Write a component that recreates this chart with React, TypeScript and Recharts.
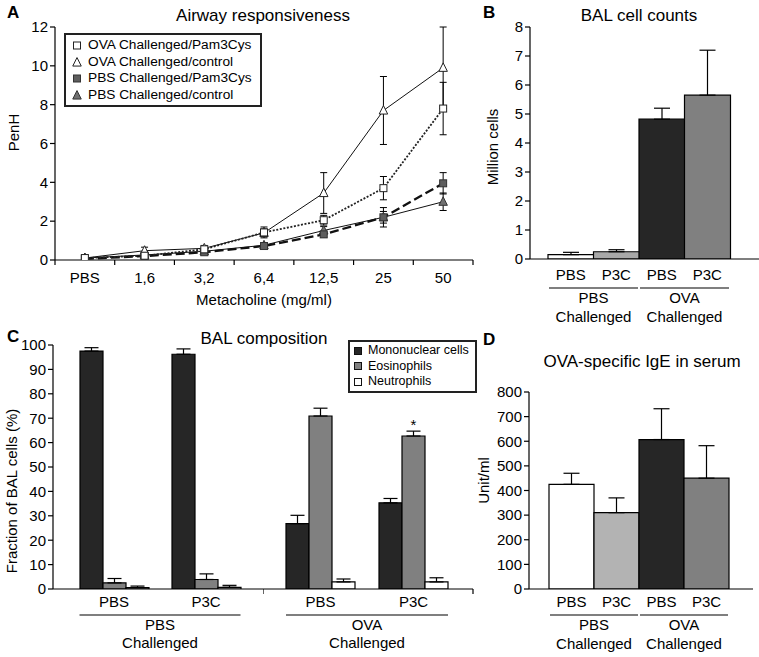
import React from 'react';
import {
  ComposedChart,
  BarChart,
  Bar,
  Line,
  XAxis,
  YAxis,
  ErrorBar,
  Cell,
  Legend,
  LabelList,
} from 'recharts';

const FONT = '"Liberation Sans", Arial, Helvetica, sans-serif';

// ---- A: airway responsiveness ----
const metacholine = ['PBS', '1,6', '3,2', '6,4', '12,5', '25', '50'];
const ovaPam = [0.1, 0.22, 0.55, 1.42, 2.05, 3.7, 7.8];
const ovaPamErr = [0.05, 0.08, 0.1, 0.28, 0.25, 0.6, 1.35];
const ovaCtrl = [0.1, 0.48, 0.6, 1.4, 3.45, 7.7, 9.9];
const ovaCtrlErr = [0.05, 0.18, 0.15, 0.2, 1.05, 1.75, 2.1];
const pbsPam = [0.06, 0.2, 0.4, 0.72, 1.32, 2.2, 3.95];
const pbsPamErr = [0.03, 0.05, 0.05, 0.1, 0.15, 0.3, 0.55];
const pbsCtrl = [0.1, 0.26, 0.45, 0.76, 1.52, 2.2, 3.0];
const pbsCtrlErr = [0.05, 0.05, 0.05, 0.1, 0.2, 0.5, 0.45];
const penhTicks = [0, 2, 4, 6, 8, 10, 12];

// ---- B: BAL cell counts ----
const treatments = ['PBS', 'P3C', 'PBS', 'P3C'];
const challengeGroups = [['PBS', 'Challenged'], ['OVA', 'Challenged']];
const cellCounts = [0.15, 0.25, 4.82, 5.65];
const cellCountsErr = [0.08, 0.07, 0.38, 1.55];
const countTicks = [0, 1, 2, 3, 4, 5, 6, 7, 8];

// ---- C: BAL composition ----
const mononuclear = [97.5, 96.2, 26.8, 35.3];
const mononuclearErr = [1.4, 2.2, 3.4, 1.8];
const eosinophils = [2.5, 3.9, 70.9, 62.7];
const eosinophilsErr = [1.8, 2.3, 3.2, 2.0];
const neutrophils = [0.6, 0.7, 2.9, 2.9];
const neutrophilsErr = [0.6, 0.8, 1.2, 1.7];
const eosMarks = ['', '', '', '*'];
const fractionTicks = [0, 10, 20, 30, 40, 50, 60, 70, 80, 90, 100];

// ---- D: OVA-specific IgE ----
const ige = [425, 310, 607, 450];
const igeErr = [45, 60, 125, 132];
const igeTicks = [0, 100, 200, 300, 400, 500, 600, 700, 800];

const lineSeries = [
  { key: 'ovaPam', name: 'OVA Challenged/Pam3Cys', values: ovaPam, errors: ovaPamErr, marker: 'square', fill: '#fff', edge: '#222', stroke: '#222', width: 1.8, dash: '2 1.6' },
  { key: 'ovaCtrl', name: 'OVA Challenged/control', values: ovaCtrl, errors: ovaCtrlErr, marker: 'triangle', fill: '#fff', edge: '#222', stroke: '#111', width: 1, dash: undefined },
  { key: 'pbsPam', name: 'PBS Challenged/Pam3Cys', values: pbsPam, errors: pbsPamErr, marker: 'square', fill: '#5e5e5e', edge: '#333', stroke: '#111', width: 2.3, dash: '9 4' },
  { key: 'pbsCtrl', name: 'PBS Challenged/control', values: pbsCtrl, errors: pbsCtrlErr, marker: 'triangle', fill: '#707070', edge: '#333', stroke: '#111', width: 1, dash: undefined },
];
const drawOrder = ['pbsCtrl', 'ovaCtrl', 'pbsPam', 'ovaPam'];

const compSeries = [
  { key: 'mono', name: 'Mononuclear cells', values: mononuclear, errors: mononuclearErr, fill: '#262626' },
  { key: 'eos', name: 'Eosinophils', values: eosinophils, errors: eosinophilsErr, fill: '#808080' },
  { key: 'neut', name: 'Neutrophils', values: neutrophils, errors: neutrophilsErr, fill: '#ffffff' },
];

const countFills = ['#ffffff', '#a8a8a8', '#262626', '#808080'];
const igeFills = ['#ffffff', '#b3b3b3', '#262626', '#808080'];

const dataA = metacholine.map((dose, i) => {
  const row: any = { dose };
  lineSeries.forEach((s) => {
    row[s.key] = s.values[i];
    row[s.key + 'Err'] = s.errors[i];
  });
  return row;
});

const dataB = treatments.map((t, i) => ({
  id: `${challengeGroups[Math.floor(i / 2)][0]}-${t}`,
  value: cellCounts[i],
  err: [0, cellCountsErr[i]],
}));

const dataD = treatments.map((t, i) => ({
  id: `${challengeGroups[Math.floor(i / 2)][0]}-${t}`,
  value: ige[i],
  err: [0, igeErr[i]],
}));

const compRows = (from: number) =>
  [from, from + 1].map((i) => {
    const row: any = { id: `${challengeGroups[Math.floor(i / 2)][0]}-${treatments[i]}`, mark: eosMarks[i] };
    compSeries.forEach((s) => {
      row[s.key] = s.values[i];
      row[s.key + 'Err'] = [0, s.errors[i]];
    });
    return row;
  });
const dataCLeft = compRows(0);
const dataCRight = compRows(2);

const FS = 15;
const tickStyle = { fill: '#000', fontSize: FS, fontFamily: FONT };
const axisStroke = { stroke: '#000', strokeWidth: 1.2 };

const Marker = ({ kind, cx, cy, fill, edge, size }: any) => {
  if (kind === 'square') {
    return <rect x={cx - size / 2} y={cy - size / 2} width={size} height={size} fill={fill} stroke={edge} strokeWidth={1} />;
  }
  const s = size + 1.5;
  return (
    <polygon
      points={`${cx},${cy - s * 0.58} ${cx - s / 2},${cy + s * 0.42} ${cx + s / 2},${cy + s * 0.42}`}
      fill={fill}
      stroke={edge}
      strokeWidth={1}
    />
  );
};

const LegendA = () => (
  <div style={{ border: '2px solid #222', background: '#fff', padding: '2px 8px 2px 5px', fontSize: 13.7, lineHeight: '16.5px', color: '#000', fontFamily: FONT, whiteSpace: 'nowrap' }}>
    {lineSeries.map((s) => (
      <div key={s.key} style={{ display: 'flex', alignItems: 'center' }}>
        <svg width={12} height={12} style={{ marginRight: 5 }}>
          <Marker kind={s.marker} cx={6} cy={6.5} fill={s.fill} edge={s.edge} size={7} />
        </svg>
        {s.name}
      </div>
    ))}
  </div>
);

const LegendC = () => (
  <div style={{ border: '2px solid #222', background: '#fff', padding: '1px 6px 1px 4px', fontSize: 12.5, lineHeight: '15.5px', color: '#000', fontFamily: FONT, whiteSpace: 'nowrap' }}>
    {compSeries.map((s) => (
      <div key={s.key} style={{ display: 'flex', alignItems: 'center' }}>
        <span style={{ display: 'inline-block', width: 6, height: 6, background: s.fill, border: '1.5px solid #111', marginRight: 6 }} />
        {s.name}
      </div>
    ))}
  </div>
);

// dose axis: labels at band centres, tick marks at band edges
const doseTick = (band: number) => (p: any) => {
  const { x, y, index, payload } = p;
  const half = payload && payload.offset ? payload.offset : band / 2;
  return (
    <g>
      <text x={x} y={y + 18} dy="0.35em" textAnchor="middle" fill="#000" fontSize={FS} fontFamily={FONT}>
        {metacholine[index]}
      </text>
      <line x1={x - half} x2={x - half} y1={y} y2={y + 5} stroke="#000" strokeWidth={1.2} />
      {index === metacholine.length - 1 && (
        <line x1={x + half} x2={x + half} y1={y} y2={y + 5} stroke="#000" strokeWidth={1.2} />
      )}
    </g>
  );
};

const GroupText = ({ x, y, lines, gap }: any) => (
  <text x={x} textAnchor="middle" fill="#000" fontSize={FS} fontFamily={FONT}>
    <tspan x={x} y={y} dy="0.35em">{lines[0]}</tspan>
    <tspan x={x} y={y + gap} dy="0.35em">{lines[1]}</tspan>
  </text>
);

// four bars, two per challenge group
const pairTick = (band: number, g: any) => (p: any) => {
  const { x, y, index, payload } = p;
  const half = payload && payload.offset ? payload.offset : band / 2;
  const lead = index % 2 === 0;
  return (
    <g>
      <text x={x} y={y + g.sub} dy="0.35em" textAnchor="middle" fill="#000" fontSize={FS} fontFamily={FONT}>
        {treatments[index]}
      </text>
      {lead && (
        <>
          <line x1={x - half + 1} x2={x + 3 * half - 1} y1={y + g.line} y2={y + g.line} stroke="#555" strokeWidth={1.4} />
          <GroupText x={x + half} y={y + g.text} lines={challengeGroups[index / 2]} gap={g.gap} />
        </>
      )}
    </g>
  );
};

// two clusters per chart, one challenge group
const clusterTick = (band: number, group: number, cluster: number, padRight: number) => (p: any) => {
  const { x, y, index, payload } = p;
  const half = payload && payload.offset ? payload.offset : band / 2;
  return (
    <g>
      <text x={x} y={y + 13} dy="0.35em" textAnchor="middle" fill="#000" fontSize={FS} fontFamily={FONT}>
        {treatments[group * 2 + index]}
      </text>
      {index === 0 && (
        <>
          <line x1={x - cluster / 2} x2={x + 2 * half + cluster / 2} y1={y + 26} y2={y + 26} stroke="#555" strokeWidth={1.4} />
          <GroupText x={x + half} y={y + 36} lines={challengeGroups[group]} gap={18} />
        </>
      )}
      {index === 1 && (
        <line x1={x + half + padRight} x2={x + half + padRight} y1={y} y2={y + 5} stroke="#000" strokeWidth={1.2} />
      )}
    </g>
  );
};

const Title = ({ cx, cy, children }: any) => (
  <div style={{ position: 'absolute', left: cx, top: cy - 10, transform: 'translateX(-50%)', fontSize: 17, lineHeight: '19px', whiteSpace: 'nowrap', color: '#000' }}>
    {children}
  </div>
);

const Letter = ({ x, y, children }: any) => (
  <div style={{ position: 'absolute', left: x, top: y, fontSize: 17, lineHeight: '17px', fontWeight: 'bold', color: '#000' }}>
    {children}
  </div>
);

const yLabel = (value: string, offset: number, dy: number) => ({
  value,
  angle: -90,
  position: 'insideLeft' as const,
  offset,
  dy,
  fill: '#000',
  fontSize: FS,
  fontFamily: FONT,
  style: { textAnchor: 'middle' as const },
});

const C_BAR = 23;

const App = () => {
  return (
    <div style={{ position: 'absolute', left: 0, top: 0, width: 759, height: 657, background: '#fff', fontFamily: FONT }}>
      {/* A */}
      <div style={{ position: 'absolute', left: 0, top: 0 }}>
        <ComposedChart width={480} height={312} data={dataA} margin={{ top: 27, right: 7, bottom: 0, left: 0 }}>
          <XAxis
            dataKey="dose"
            scale="band"
            height={52}
            axisLine={axisStroke}
            tickLine={false}
            tickSize={0}
            tickMargin={0}
            interval={0}
            tick={doseTick(418 / 7)}
            label={{ value: 'Metacholine (mg/ml)', position: 'insideBottom', offset: 7, fill: '#000', fontSize: FS, fontFamily: FONT }}
          />
          <YAxis
            width={55}
            domain={[0, 12]}
            ticks={penhTicks}
            interval={0}
            allowDataOverflow
            tick={tickStyle}
            tickSize={5}
            tickMargin={2}
            axisLine={axisStroke}
            tickLine={axisStroke}
            label={yLabel('PenH', 14, -11)}
          />
          {drawOrder.map((k) => {
            const s = lineSeries.find((l) => l.key === k)!;
            return (
              <Line
                key={s.key}
                dataKey={s.key}
                type="linear"
                stroke={s.stroke}
                strokeWidth={s.width}
                strokeDasharray={s.dash}
                isAnimationActive={false}
                dot={(p: any) => (
                  <Marker key={`${s.key}-${p.index}`} kind={s.marker} cx={p.cx} cy={p.cy} fill={s.fill} edge={s.edge} size={7} />
                )}
                activeDot={false}
              >
                <ErrorBar dataKey={s.key + 'Err'} width={3.5} stroke="#000" strokeWidth={1} direction="y" />
              </Line>
            );
          })}
          <Legend
            layout="vertical"
            align="center"
            verticalAlign="middle"
            content={() => <LegendA />}
            wrapperStyle={{ left: 64, top: 33, width: 'auto', height: 'auto' }}
          />
        </ComposedChart>
      </div>

      {/* B */}
      <div style={{ position: 'absolute', left: 480, top: 0 }}>
        <BarChart width={279} height={330} data={dataB} margin={{ top: 27, right: 0, bottom: 0, left: 0 }} barCategoryGap={0}>
          <XAxis
            dataKey="id"
            height={71}
            padding={{ left: 18, right: 29 }}
            axisLine={axisStroke}
            tickLine={false}
            tickSize={0}
            tickMargin={0}
            interval={0}
            tick={pairTick(45.5, { sub: 16, line: 29, text: 39, gap: 19 })}
          />
          <YAxis
            width={50}
            domain={[0, 8]}
            ticks={countTicks}
            interval={0}
            allowDataOverflow
            tick={tickStyle}
            tickSize={5}
            tickMargin={2}
            axisLine={axisStroke}
            tickLine={axisStroke}
            label={yLabel('Million cells', 13, 4)}
          />
          <Bar dataKey="value" stroke="#000" strokeWidth={1.2} isAnimationActive={false}>
            {dataB.map((d, i) => (
              <Cell key={d.id} fill={countFills[i]} />
            ))}
            <ErrorBar dataKey="err" width={8} stroke="#000" strokeWidth={1.2} />
          </Bar>
        </BarChart>
      </div>

      {/* C left: PBS challenged */}
      <div style={{ position: 'absolute', left: 0, top: 330 }}>
        <BarChart width={264} height={322} data={dataCLeft} margin={{ top: 15, right: 0, bottom: 0, left: 0 }} barGap={0} barSize={C_BAR}>
          <XAxis
            dataKey="id"
            height={63}
            padding={{ left: 15, right: 12 }}
            axisLine={axisStroke}
            tickLine={false}
            tickSize={0}
            tickMargin={0}
            interval={0}
            tick={clusterTick(92, 0, C_BAR * 3, 12)}
          />
          <YAxis
            width={53}
            domain={[0, 100]}
            ticks={fractionTicks}
            interval={0}
            allowDataOverflow
            tick={tickStyle}
            tickSize={5}
            tickMargin={2}
            axisLine={axisStroke}
            tickLine={axisStroke}
            label={yLabel('Fraction of BAL cells (%)', 12, 24)}
          />
          {compSeries.map((s) => (
            <Bar key={s.key} dataKey={s.key} name={s.name} fill={s.fill} stroke="#000" strokeWidth={1.2} isAnimationActive={false}>
              <ErrorBar dataKey={s.key + 'Err'} width={7} stroke="#000" strokeWidth={1.2} />
            </Bar>
          ))}
        </BarChart>
      </div>

      {/* C right: OVA challenged */}
      <div style={{ position: 'absolute', left: 264, top: 330 }}>
        <BarChart width={215} height={322} data={dataCRight} margin={{ top: 15, right: 6, bottom: 0, left: 0 }} barGap={0} barSize={C_BAR}>
          <XAxis
            dataKey="id"
            height={63}
            padding={{ left: 10, right: 13 }}
            axisLine={axisStroke}
            tickLine={false}
            tickSize={0}
            tickMargin={0}
            interval={0}
            tick={clusterTick(93, 1, C_BAR * 3, 13)}
          />
          <YAxis hide width={0} domain={[0, 100]} allowDataOverflow />
          {compSeries.map((s) => (
            <Bar key={s.key} dataKey={s.key} name={s.name} fill={s.fill} stroke="#000" strokeWidth={1.2} isAnimationActive={false}>
              <ErrorBar dataKey={s.key + 'Err'} width={7} stroke="#000" strokeWidth={1.2} />
              {s.key === 'eos' && <LabelList dataKey="mark" position="top" offset={6} fill="#000" fontSize={15} fontFamily={FONT} />}
            </Bar>
          ))}
          <Legend
            layout="vertical"
            align="center"
            verticalAlign="middle"
            content={() => <LegendC />}
            wrapperStyle={{ left: 84, top: 10, width: 'auto', height: 'auto' }}
          />
        </BarChart>
      </div>

      {/* D */}
      <div style={{ position: 'absolute', left: 466, top: 330 }}>
        <BarChart width={293} height={327} data={dataD} margin={{ top: 62, right: 6, bottom: 0, left: 0 }} barCategoryGap={0}>
          <XAxis
            dataKey="id"
            height={68}
            padding={{ left: 20, right: 24 }}
            axisLine={axisStroke}
            tickLine={false}
            tickSize={0}
            tickMargin={0}
            interval={0}
            tick={pairTick(45, { sub: 13, line: 26, text: 36, gap: 19 })}
          />
          <YAxis
            width={63}
            domain={[0, 800]}
            ticks={igeTicks}
            interval={0}
            allowDataOverflow
            tick={tickStyle}
            tickSize={5}
            tickMargin={2}
            axisLine={axisStroke}
            tickLine={axisStroke}
            label={yLabel('Unit/ml', 18, -10)}
          />
          <Bar dataKey="value" stroke="#000" strokeWidth={1.2} isAnimationActive={false}>
            {dataD.map((d, i) => (
              <Cell key={d.id} fill={igeFills[i]} />
            ))}
            <ErrorBar dataKey="err" width={8} stroke="#000" strokeWidth={1.2} />
          </Bar>
        </BarChart>
      </div>

      <Letter x={7} y={4}>A</Letter>
      <Letter x={483} y={4}>B</Letter>
      <Letter x={7} y={328}>C</Letter>
      <Letter x={483} y={331}>D</Letter>
      <Title cx={263} cy={16}>Airway responsiveness</Title>
      <Title cx={639} cy={16}>BAL cell counts</Title>
      <Title cx={264} cy={339}>BAL composition</Title>
      <Title cx={642} cy={362}>OVA-specific IgE in serum</Title>
    </div>
  );
};

export default App;
